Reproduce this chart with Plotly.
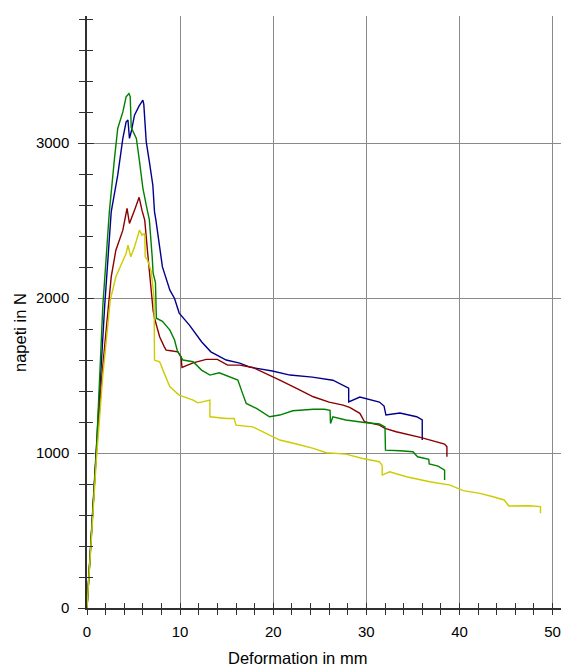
import plotly.graph_objects as go

# Deformation (mm) / force (N) for four specimens
blue_x = [0, 1.0, 1.9, 2.6, 3.3, 3.85, 4.2, 4.4, 4.56, 4.75, 5.1, 5.6, 6.0, 6.1, 6.36, 6.7, 7.07, 7.25, 7.4, 7.8, 8.1, 8.9, 9.4, 9.9,
          11.0, 12.3, 13.3, 14.95, 16.4, 17.5, 19.9, 21.8, 24.2, 26.4, 27.5, 28.0, 28.1, 28.1, 29.3, 31.4, 31.9, 32.1,
          33.6, 35.4, 36.0, 36.0]
blue_y = [0, 1000, 1950, 2556, 2793, 3030, 3137, 3148, 3030, 3073, 3180, 3240, 3277, 3250, 3008, 2879, 2728, 2556, 2503, 2330, 2201, 2051, 1997, 1903,
          1825, 1718, 1653, 1600, 1580, 1554, 1529, 1503, 1490, 1470, 1438, 1419, 1419, 1330, 1361, 1329, 1303, 1245,
          1258, 1234, 1213, 1084]

green_x = [0, 1.0, 1.7, 2.4, 2.95, 3.3, 3.85, 4.2, 4.5, 4.64, 4.75, 5.0, 5.3, 5.6, 6.0, 6.4, 6.7, 7.0, 7.1, 7.35, 7.45, 8.1, 8.9,
           9.4, 9.7, 10.3, 11.4, 12.3, 13.2, 14.2, 15.3, 16.2, 16.7, 17.1, 18.2, 19.6, 20.7, 22.1, 24.3, 25.5, 26.1, 26.15,
           26.4, 27.8, 30.0, 31.4, 32.0, 32.05, 33.6, 35.0, 35.5, 36.7, 36.75, 37.7, 38.4, 38.4]
green_y = [0, 1000, 1950, 2556, 2900, 3094, 3201, 3298, 3320, 3300, 3100, 3070, 3030, 2900, 2710, 2588, 2503, 2266, 2160, 2100, 1870, 1850, 1793,
           1729, 1660, 1600, 1589, 1535, 1503, 1518, 1492, 1471, 1385, 1320, 1288, 1234, 1245, 1273, 1282, 1282, 1275, 1191,
           1234, 1213, 1195, 1187, 1169, 1019, 1015, 1008, 976, 959, 929, 916, 890, 826]

red_x = [0, 1.0, 1.6, 2.06, 2.6, 3.1, 3.85, 4.3, 4.56, 5.1, 5.6, 5.9, 6.2, 6.5, 6.9, 7.1, 7.25, 7.6, 7.8, 8.3, 8.5, 9.0, 9.75,
         10.1, 10.2, 10.8, 11.4, 12.8, 14.0, 15.1, 16.4, 17.8, 19.2, 20.7, 22.5, 24.3, 26.0, 27.5, 28.2, 29.3, 29.8,
         31.4, 32.0, 33.2, 35.9, 37.5, 38.4, 38.65, 38.65]
red_y = [0, 1000, 1500, 1814, 2137, 2309, 2438, 2578, 2481, 2567, 2650, 2567, 2503, 2300, 2008, 1920, 1870, 1800, 1750, 1685, 1664, 1660, 1653,
         1621, 1552, 1567, 1582, 1604, 1604, 1567, 1567, 1552, 1514, 1471, 1417, 1363, 1328, 1309, 1294, 1256, 1202,
         1180, 1159, 1137, 1099, 1073, 1058, 1040, 976]

yellow_x = [0, 1.0, 1.7, 2.5, 3.1, 3.7, 4.2, 4.4, 4.7, 5.1, 5.64, 5.9, 6.2, 6.25, 6.5, 6.9, 7.07, 7.2, 7.25, 7.8, 8.3, 8.9, 9.9,
            11.4, 11.9, 13.0, 13.2, 13.2, 14.95, 15.8, 16.0, 17.8, 19.2, 20.7, 22.5, 24.3, 25.7, 27.8, 29.6, 31.4, 31.7, 31.7,
            32.5, 34.3, 36.8, 39.0, 40.4, 42.2, 43.6, 44.8, 45.3, 47.5, 48.7, 48.7]
yellow_y = [0, 950, 1500, 1987, 2137, 2223, 2288, 2341, 2266, 2330, 2438, 2406, 2417, 2266, 2245, 2170, 2094, 2000, 1600, 1589, 1514, 1427, 1374,
            1342, 1324, 1342, 1342, 1234, 1223, 1223, 1180, 1169, 1127, 1084, 1058, 1030, 1002, 993, 965, 944, 920, 858,
            879, 847, 815, 793, 757, 740, 718, 697, 658, 660, 654, 611]

series = [
    (blue_x, blue_y, "#00008B"),
    (red_x, red_y, "#8B0000"),
    (green_x, green_y, "#008000"),
    (yellow_x, yellow_y, "#CCCC00"),
]

x_range = [0, 50.9]
y_range = [0, 3820]

fig = go.Figure()
for xs, ys, col in series:
    fig.add_trace(go.Scatter(x=xs, y=ys, mode="lines", line=dict(color=col, width=1.4, shape="linear"),
                             showlegend=False, hoverinfo="skip"))

# dummy trace for inside tick axes
fig.add_trace(go.Scatter(x=[None], y=[None], xaxis="x2", yaxis="y2", showlegend=False))

axis_col = "#303030"
font = dict(family="Liberation Sans, Arial, sans-serif", size=15, color="black")

fig.update_layout(
    width=561, height=666,
    margin=dict(l=87, r=0, t=16, b=58),
    paper_bgcolor="white", plot_bgcolor="white",
    font=font,
    xaxis=dict(range=x_range, dtick=10, tick0=0, ticks="outside", ticklen=5, tickwidth=1.3, tickcolor=axis_col,
               showline=True, linecolor=axis_col, linewidth=1.5,
               showgrid=True, gridcolor="#8a8a8a", gridwidth=1, zeroline=False,
               minor=dict(dtick=2, tick0=0, ticks="outside", ticklen=5, tickwidth=1, tickcolor=axis_col, showgrid=False),
               ticklabelstandoff=4, fixedrange=True),
    yaxis=dict(range=y_range, dtick=1000, tick0=0, ticks="outside", ticklen=7, tickwidth=1.3, tickcolor=axis_col,
               showline=True, linecolor=axis_col, linewidth=1.5,
               showgrid=True, gridcolor="#8a8a8a", gridwidth=1, zeroline=False,
               minor=dict(dtick=200, tick0=0, ticks="outside", ticklen=6, tickwidth=1, tickcolor=axis_col, showgrid=False),
               ticklabelstandoff=6, fixedrange=True),
    xaxis2=dict(range=x_range, overlaying="x", anchor="y2", dtick=10, tick0=0, ticks="inside", ticklen=5, tickwidth=1.3,
                tickcolor=axis_col, showticklabels=False, showgrid=False, showline=False, zeroline=False,
                minor=dict(dtick=2, tick0=0, ticks="inside", ticklen=5, tickwidth=1, tickcolor=axis_col, showgrid=False)),
    yaxis2=dict(range=y_range, overlaying="y", anchor="x2", dtick=1000, tick0=0, ticks="inside", ticklen=7, tickwidth=1.3,
                tickcolor=axis_col, showticklabels=False, showgrid=False, showline=False, zeroline=False,
                minor=dict(dtick=200, tick0=0, ticks="inside", ticklen=6, tickwidth=1, tickcolor=axis_col, showgrid=False)),
    annotations=[
        dict(text="Deformation in mm", xref="paper", yref="paper", x=(297.5 - 87) / 474, y=-(658 - 608) / 592,
             xanchor="center", yanchor="middle", showarrow=False, font=dict(size=16.5)),
        dict(text="napeti in N", xref="paper", yref="paper", x=-(87 - 20) / 474, y=(608 - 333) / 592,
             xanchor="center", yanchor="middle", textangle=-90, showarrow=False, font=dict(size=16.5)),
    ],
)

fig.write_html("out.html", config={"displayModeBar": False},
               post_script="document.body.style.margin='0px';document.body.style.padding='0px';")
